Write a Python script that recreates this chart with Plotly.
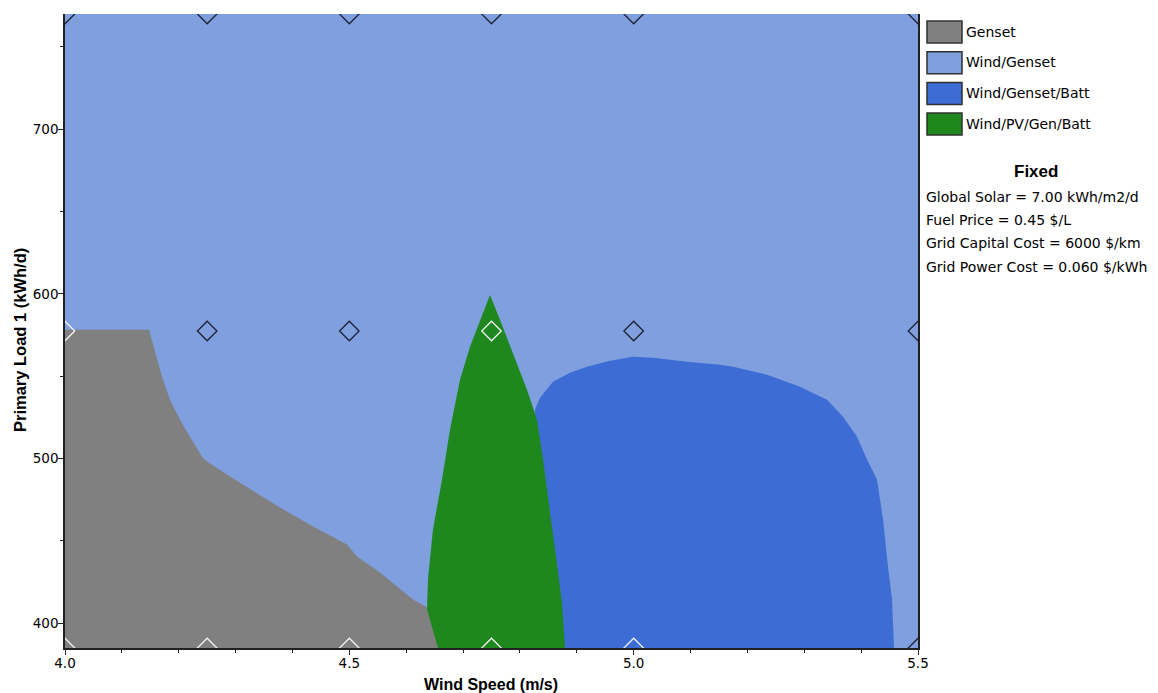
import plotly.graph_objects as go

# ---------------- data ----------------
systems = ["Genset", "Wind/Genset", "Wind/Genset/Batt", "Wind/PV/Gen/Batt"]
system_colors = ["#808080", "#7f9fdf", "#3d6dd4", "#1e871e"]

# region boundaries (wind speed m/s, primary load kWh/d)
genset_wind = [4.0, 4.0, 4.1477, 4.1583, 4.1706, 4.1846, 4.2022, 4.2198, 4.2409, 4.2497,
               4.2849, 4.3552, 4.3781, 4.4361, 4.4959, 4.5135, 4.5539, 4.6120, 4.6366, 4.68]
genset_load = [385, 578.2, 578.2, 564.2, 549.7, 535.8, 523.6, 513.3, 501.2, 498.2,
               490.3, 475.2, 470.3, 458.8, 447.9, 440.6, 430.9, 414.5, 409.7, 385]

wgb_wind = [4.84, 4.8265, 4.8353, 4.8581, 4.8880, 4.9179, 4.9584, 4.9988, 5.0340, 5.0938,
            5.1518, 5.1747, 5.2345, 5.2925, 5.3400, 5.3681, 5.3927, 5.4103, 5.4279, 5.4385,
            5.4472, 5.4543, 5.4578]
wgb_load = [385, 529.7, 537.0, 546.7, 552.1, 555.8, 559.4, 561.8, 561.2, 558.8,
            557.0, 555.8, 550.9, 543.6, 535.8, 525.5, 513.3, 499.4, 487.3, 463.0,
            434.5, 414.5, 385]

wpgb_wind = [4.7474, 4.7298, 4.7122, 4.6946, 4.6770, 4.6630, 4.6471, 4.6383, 4.6366, 4.6559,
             4.8793, 4.8740, 4.8652, 4.8529, 4.8406, 4.8300, 4.8124, 4.7878, 4.7650]
wpgb_load = [599.4, 584.2, 567.9, 547.9, 517.6, 487.3, 457.0, 426.7, 408.5, 385,
             385, 412.7, 437.0, 467.3, 499.4, 523.6, 541.8, 564.2, 584.2]

# sensitivity cases and optimal system at each
case_wind = [4.0, 4.25, 4.5, 4.75, 5.0, 5.5,
             4.0, 4.25, 4.5, 4.75, 5.0, 5.5,
             4.0, 4.25, 4.5, 4.75, 5.0, 5.5]
case_load = [385] * 6 + [577.5] * 6 + [770] * 6
case_system = ["Genset", "Genset", "Genset", "Wind/PV/Gen/Batt", "Wind/Genset/Batt", "Wind/Genset",
               "Genset", "Wind/Genset", "Wind/Genset", "Wind/PV/Gen/Batt", "Wind/Genset", "Wind/Genset",
               "Wind/Genset", "Wind/Genset", "Wind/Genset", "Wind/Genset", "Wind/Genset", "Wind/Genset"]

fixed_title = "Fixed"
fixed_lines = ["Global Solar = 7.00 kWh/m2/d", "Fuel Price = 0.45 $/L",
               "Grid Capital Cost = 6000 $/km", "Grid Power Cost = 0.060 $/kWh"]

x_range = [4.0, 5.5]
y_range = [385, 770]
x_ticks = [4.0, 4.5, 5.0, 5.5]
x_ticklabels = ["4.0", "4.5", "5.0", "5.5"]
y_ticks = [400, 500, 600, 700]

# ---------------- figure ----------------
FONT = "Liberation Sans, Arial, sans-serif"
TFONT = "DejaVu Sans, Verdana, sans-serif"
color_of = dict(zip(systems, system_colors))

fig = go.Figure()
for name, xs, ys in [("Genset", genset_wind, genset_load),
                     ("Wind/Genset/Batt", wgb_wind, wgb_load),
                     ("Wind/PV/Gen/Batt", wpgb_wind, wpgb_load)]:
    fig.add_trace(go.Scatter(x=xs, y=ys, fill="toself", mode="lines",
                             line=dict(width=0, color=color_of[name]),
                             fillcolor=color_of[name], showlegend=False,
                             hoverinfo="skip"))

mcol = ["#1c2333" if s == "Wind/Genset" else "#f2f2f2" for s in case_system]
fig.add_trace(go.Scatter(x=case_wind, y=case_load, mode="markers",
                         marker=dict(symbol="diamond-open", size=15,
                                     color=mcol, line=dict(width=1.3, color=mcol)),
                         showlegend=False, cliponaxis=True))

# page offset (browser body margin)
OFF = 8
W, H = 1158 - OFF, 693 - OFF
# plot area in page pixels
L, R, T, B = 65, 918, 14, 648
def px(x):
    return (x - L) / (R - L)
def py(y):
    return (B - y) / (B - T)

shapes = []
annotations = []
for i, (name, col) in enumerate(zip(systems, system_colors)):
    top = 21 + i * 30.7
    shapes.append(dict(type="rect", xref="paper", yref="paper",
                       x0=px(927), x1=px(962), y0=py(top + 22), y1=py(top),
                       fillcolor=col, line=dict(color="#303030", width=1.5)))
    annotations.append(dict(xref="paper", yref="paper", x=px(964), y=py(top + 10.5),
                            text=name, showarrow=False, xanchor="left", yanchor="middle",
                            font=dict(family=TFONT, size=14, color="black")))
annotations.append(dict(xref="paper", yref="paper", x=px(1036), y=py(171),
                        text="<b>" + fixed_title + "</b>", showarrow=False,
                        xanchor="center", yanchor="middle",
                        font=dict(family=FONT, size=17, color="black")))
for i, t in enumerate(fixed_lines):
    annotations.append(dict(xref="paper", yref="paper", x=px(924), y=py(197 + i * 23.2),
                            text=t, showarrow=False, xanchor="left", yanchor="middle",
                            font=dict(family=TFONT, size=14, color="black")))
annotations.append(dict(xref="paper", yref="paper", x=px(491), y=py(684),
                        text="<b>Wind Speed (m/s)</b>", showarrow=False,
                        xanchor="center", yanchor="middle",
                        font=dict(family=FONT, size=16, color="black")))
annotations.append(dict(xref="paper", yref="paper", x=px(20), y=py(340),
                        text="<b>Primary Load 1 (kWh/d)</b>", showarrow=False, textangle=-90,
                        xanchor="center", yanchor="middle",
                        font=dict(family=FONT, size=16.5, color="black")))

fig.update_layout(
    width=W, height=H,
    margin=dict(l=L - OFF, r=(1158 - R), t=T - OFF, b=(693 - B), pad=0),
    paper_bgcolor="white",
    plot_bgcolor=color_of["Wind/Genset"],
    shapes=shapes, annotations=annotations,
    xaxis=dict(range=x_range, tickvals=x_ticks, ticktext=x_ticklabels,
               showgrid=False, zeroline=False, showline=True, linecolor="#202020",
               linewidth=2, ticks="outside", ticklen=5, tickcolor="#202020",
               ticklabelstandoff=-3,
               tickfont=dict(family=TFONT, size=13.5, color="black"),
               minor=dict(dtick=0.1, tick0=4.0, ticks="outside", ticklen=3,
                          tickcolor="#202020", showgrid=False)),
    yaxis=dict(range=y_range, tickvals=y_ticks, showgrid=False, zeroline=False,
               showline=True, linecolor="#202020", linewidth=1.5, mirror=True,
               ticks="outside", ticklen=5, tickcolor="#202020",
               ticklabelstandoff=-3,
               tickfont=dict(family=TFONT, size=13.5, color="black"),
               minor=dict(dtick=50, tick0=400, ticks="outside", ticklen=3,
                          tickcolor="#202020", showgrid=False)),
)

fig.write_html("out.html")
